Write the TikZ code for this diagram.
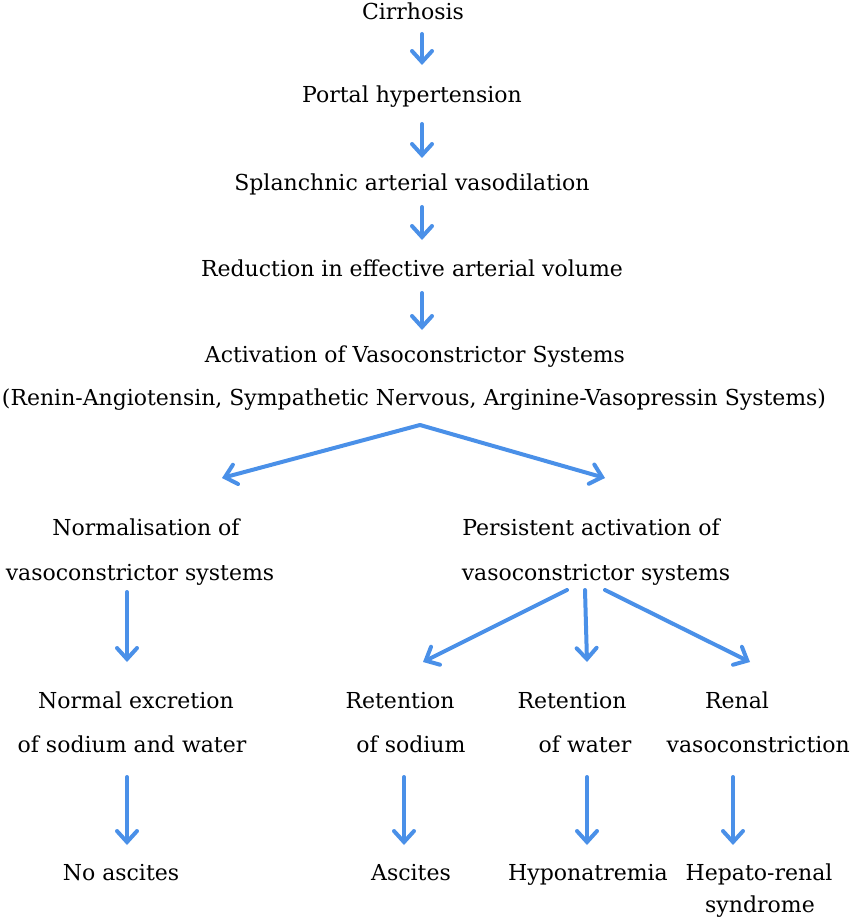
\documentclass[tikz,border=0pt]{standalone}
\usepackage{fontspec}
\usepackage{graphicx}
\setmainfont{DejaVu Serif}
\usetikzlibrary{arrows.meta}
\definecolor{arrblue}{RGB}{74,144,232}
\begin{document}
\begin{tikzpicture}[x=1pt,y=-1pt,
  txt/.style={anchor=base,inner sep=0pt,font=\fontsize{22}{26}\selectfont},
  arr/.style={draw=arrblue,line width=4pt,line cap=round,line join=round,
    -{Straight Barb[length=11pt,width=20pt,line width=4pt,line cap=round]}}]
\useasboundingbox (0,0) rectangle (850,920);
% texts
\node[txt] (cirr)    at (413,20)  {Cirrhosis};
\node[txt] (portal)  at (412,103) {Portal hypertension};
\node[txt] (splanch) at (412,190) {Splanchnic arterial vasodilation};
\node[txt] (reduct)  at (412,276) {Reduction in effective arterial volume};
\node[txt] (activ)   at (415,362) {\resizebox{420pt}{\height}{Activation of Vasoconstrictor Systems}};
\node[txt] (renin)   at (414,405) {\resizebox{824pt}{\height}{(Renin-Angiotensin, Sympathetic Nervous, Arginine-Vasopressin Systems)}};
\node[txt] (norma)   at (146,535) {Normalisation of};
\node[txt] (normb)   at (140,580) {vasoconstrictor systems};
\node[txt] (persa)   at (591,535) {Persistent activation of};
\node[txt] (persb)   at (596,580) {vasoconstrictor systems};
\node[txt] (nexca)   at (136,708) {Normal excretion};
\node[txt] (nexcb)   at (132,752) {of sodium and water};
\node[txt] (retna)   at (400,708) {Retention};
\node[txt] (retnb)   at (411,752) {of sodium};
\node[txt] (retwa)   at (572,708) {Retention};
\node[txt] (retwb)   at (585,752) {of water};
\node[txt] (renala)  at (737,708) {Renal};
\node[txt,anchor=base east] (renalb) at (850,752) {vasoconstriction};
\node[txt] (noasc)   at (121,880) {No ascites};
\node[txt] (asc)     at (411,880) {Ascites};
\node[txt] (hypo)    at (588,880) {Hyponatremia};
\node[txt] (hepa)    at (759,880) {Hepato-renal};
\node[txt] (hepb)    at (760,912) {syndrome};
% arrow end points
\coordinate (a1s) at (422,34);  \coordinate (a1e) at (422,65);
\coordinate (a2s) at (422,124); \coordinate (a2e) at (422,158);
\coordinate (a3s) at (422,207); \coordinate (a3e) at (422,240);
\coordinate (a4s) at (422,293); \coordinate (a4e) at (422,330);
\coordinate (sp)  at (420,425);
\coordinate (spl) at (222,478); \coordinate (spr) at (605,478);
\coordinate (a5s) at (127,592); \coordinate (a5e) at (127,662);
\coordinate (ps1) at (567,590); \coordinate (pe1) at (423,662);
\coordinate (ps2) at (585,590); \coordinate (pe2) at (587,662);
\coordinate (ps3) at (605,590); \coordinate (pe3) at (750,662);
\coordinate (b1s) at (127,777); \coordinate (b1e) at (127,845);
\coordinate (b2s) at (404,777); \coordinate (b2e) at (404,845);
\coordinate (b3s) at (587,777); \coordinate (b3e) at (587,845);
\coordinate (b4s) at (733,777); \coordinate (b4e) at (733,845);
% arrows
\draw[arr] (a1s) -- (a1e);
\draw[arr] (a2s) -- (a2e);
\draw[arr] (a3s) -- (a3e);
\draw[arr] (a4s) -- (a4e);
\draw[arr] (sp) -- (spl);
\draw[arr] (sp) -- (spr);
\draw[arr] (a5s) -- (a5e);
\draw[arr] (ps1) -- (pe1);
\draw[arr] (ps2) -- (pe2);
\draw[arr] (ps3) -- (pe3);
\draw[arr] (b1s) -- (b1e);
\draw[arr] (b2s) -- (b2e);
\draw[arr] (b3s) -- (b3e);
\draw[arr] (b4s) -- (b4e);
\end{tikzpicture}
\end{document}
